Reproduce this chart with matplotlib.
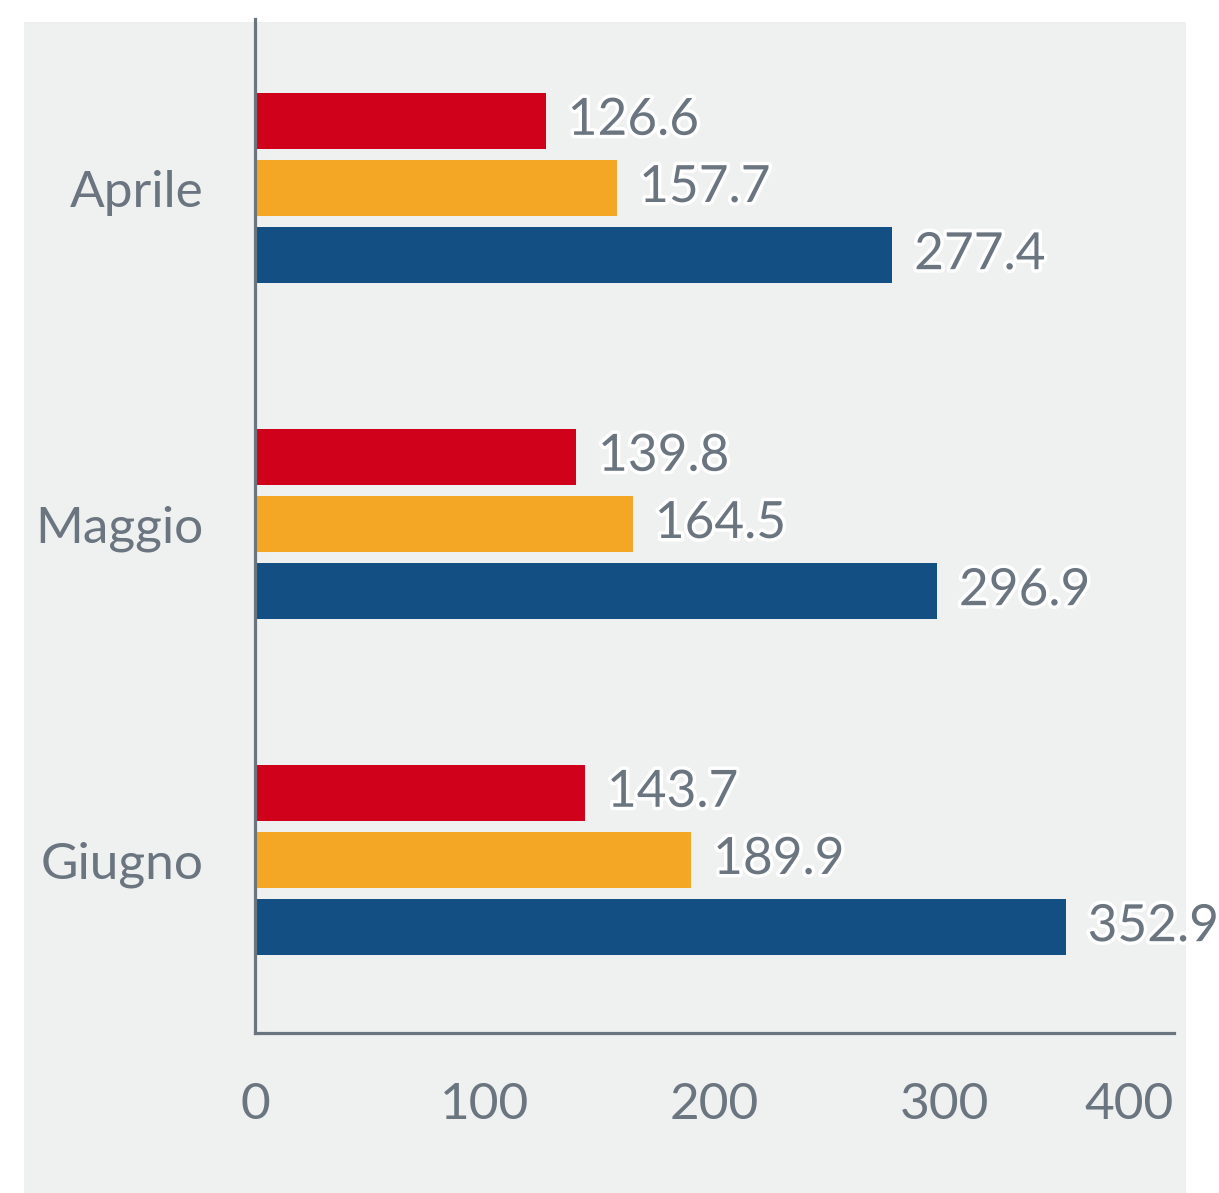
import matplotlib.pyplot as plt
import matplotlib.patheffects as pe
from matplotlib.patches import Rectangle
import numpy as np

# Dati
mesi = ["Aprile", "Maggio", "Giugno"]
serie_rossa = [126.6, 139.8, 143.7]
serie_arancio = [157.7, 164.5, 189.9]
serie_blu = [277.4, 296.9, 352.9]
tick_x = [0, 100, 200, 300, 400]

GRIGIO = "#6b7580"
colori = ["#d0021b", "#f4a724", "#144f84"]

plt.rcParams['font.family'] = ['Lato', 'DejaVu Sans']

fig = plt.figure(figsize=(12.19, 11.93), dpi=100)
fig.patch.set_facecolor("white")
# pannello grigio di sfondo
fig.patches.append(Rectangle((24 / 1219, 0), (1186 - 24) / 1219, (1193 - 22) / 1193,
                             transform=fig.transFigure, facecolor="#eff0f0",
                             edgecolor="none", zorder=-1))

ax = fig.add_axes([255 / 1219, 160 / 1193, 919 / 1219, 1014 / 1193])
ax.set_facecolor("none")
ax.set_zorder(1)

y = np.arange(len(mesi))
h = 0.167
step = 0.2
for i, (vals, col) in enumerate(zip([serie_rossa, serie_arancio, serie_blu], colori)):
    pos = y + (i - 1) * step
    ax.barh(pos, vals, height=h, color=col, zorder=2)
    for p, v in zip(pos, vals):
        ax.text(v + 9.5, p, f"{v:.1f}", va="center", ha="left", fontsize=37,
                color=GRIGIO, zorder=3, clip_on=False,
                path_effects=[pe.withStroke(linewidth=5, foreground="white")])

ax.set_xlim(0, 400)
ax.set_ylim(2.515, -0.503)
ax.set_yticks(y)
ax.set_yticklabels(mesi, fontsize=37, color=GRIGIO)
ax.set_xticks(tick_x)
ax.set_xticklabels([str(t) for t in tick_x], fontsize=37, color=GRIGIO)
ax.get_xticklabels()[-1].set_ha("right")
ax.tick_params(axis="both", length=0)
ax.tick_params(axis="x", pad=35)
ax.tick_params(axis="y", pad=37)

for s in ["top", "right"]:
    ax.spines[s].set_visible(False)
for s in ["left", "bottom"]:
    ax.spines[s].set_color(GRIGIO)
    ax.spines[s].set_linewidth(2.3)

fig.savefig("out.png", dpi=100)
